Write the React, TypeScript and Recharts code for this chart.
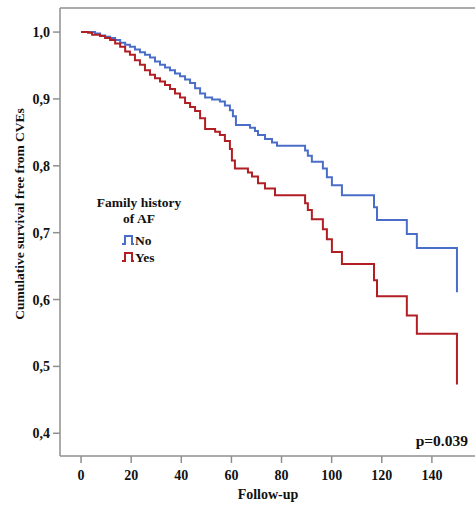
import { LineChart, Line, XAxis, YAxis, ReferenceLine } from 'recharts'

// Kaplan-Meier steps (time, cumulative survival)
const noTimes = [0, 5.6, 7.6, 9.6, 11.6, 13.6, 15.6, 17.6, 19.5, 21.5, 23.5, 25.5, 27.5, 29.5, 31.5, 33.5, 35.5, 37.5, 39.5, 41.5, 43.5, 45.5, 47.5, 49.5, 52.3, 55.4, 57.4, 59.4, 60.6, 61.8, 67.4, 69.4, 70.6, 73.4, 76.2, 78.2, 89.4, 90.5, 92.1, 96.5, 98.1, 100.1, 104.1, 116.9, 118.1, 130, 134, 150]
const noSurv = [1.0, 0.998, 0.995, 0.993, 0.991, 0.988, 0.984, 0.981, 0.978, 0.974, 0.97, 0.966, 0.962, 0.956, 0.951, 0.947, 0.943, 0.938, 0.934, 0.929, 0.924, 0.916, 0.908, 0.902, 0.899, 0.896, 0.89, 0.883, 0.874, 0.861, 0.857, 0.852, 0.846, 0.84, 0.835, 0.83, 0.823, 0.815, 0.806, 0.796, 0.783, 0.771, 0.756, 0.738, 0.719, 0.698, 0.677, 0.611]

const yesTimes = [0, 2.8, 4.4, 7.6, 9.6, 11.6, 13.6, 15.6, 17.6, 19.5, 21.5, 23.5, 25.5, 27.5, 29.5, 31.5, 33.5, 35.5, 37.5, 39.5, 41.5, 43.5, 45.5, 47.5, 49.5, 53.5, 55.4, 57.4, 59.4, 60.2, 61.4, 66.6, 68.2, 70.6, 73.4, 77.4, 89.4, 90.5, 92.1, 96.5, 98.1, 100.1, 104.1, 116.9, 118.1, 130, 134, 150]
const yesSurv = [1.0, 0.999, 0.996, 0.994, 0.991, 0.988, 0.983, 0.978, 0.971, 0.966, 0.958, 0.951, 0.943, 0.936, 0.931, 0.926, 0.921, 0.915, 0.908, 0.902, 0.894, 0.888, 0.882, 0.871, 0.855, 0.851, 0.846, 0.837, 0.825, 0.808, 0.796, 0.79, 0.784, 0.774, 0.766, 0.756, 0.744, 0.734, 0.72, 0.705, 0.69, 0.671, 0.653, 0.629, 0.605, 0.576, 0.549, 0.473]

const xTicks = [0, 20, 40, 60, 80, 100, 120, 140]
const yTicks = [0.4, 0.5, 0.6, 0.7, 0.8, 0.9, 1.0]
const xDomain = [-8.4, 157.2]
const yDomain = [0.366, 1.036]

const groups = ['No', 'Yes']
const pValue = 'p=0.039'

const noData = noTimes.map((t, i) => ({ t, s: noSurv[i] }))
const yesData = yesTimes.map((t, i) => ({ t, s: yesSurv[i] }))

const BLUE = '#4a6ec8'
const RED = '#b11e24'
const AXIS = '#8f8f8f'
const FONT = '"Liberation Serif", "Times New Roman", serif'

const tickStyle = { fill: '#111', fontSize: 14, fontWeight: 700, fontFamily: FONT }

function StepIcon({ x, y, color }: { x: number; y: number; color: string }) {
  // small ⎍ shaped step symbol used by SPSS legends
  return (
    <path
      d={`M${x} ${y + 8} H${x + 3} V${y} H${x + 10} V${y + 8} H${x + 12}`}
      fill="none"
      stroke={color}
      strokeWidth={2}
    />
  )
}

export default function App() {
  return (
    <div style={{ position: 'absolute', left: 0, top: 0, width: 475, height: 509, background: '#fff' }}>
      <LineChart width={475} height={509} margin={{ top: 8, right: 0, left: 0, bottom: 0 }}>
        <XAxis
          type="number"
          dataKey="t"
          domain={xDomain}
          ticks={xTicks}
          allowDataOverflow
          height={53}
          stroke={AXIS}
          strokeWidth={1.5}
          tickSize={7}
          tickMargin={7}
          tick={tickStyle}
        />
        <YAxis
          type="number"
          dataKey="s"
          domain={yDomain}
          ticks={yTicks}
          allowDataOverflow
          width={60}
          stroke={AXIS}
          strokeWidth={1.5}
          tickSize={7}
          tickMargin={3}
          tick={tickStyle}
          tickFormatter={(v: number) => v.toFixed(1).replace('.', ',')}
        />
        <ReferenceLine y={yDomain[1]} stroke={AXIS} strokeWidth={1.5} />
        <Line
          data={noData}
          dataKey="s"
          type="stepAfter"
          stroke={BLUE}
          strokeWidth={2}
          dot={false}
          isAnimationActive={false}
        />
        <Line
          data={yesData}
          dataKey="s"
          type="stepAfter"
          stroke={RED}
          strokeWidth={2}
          dot={false}
          isAnimationActive={false}
        />
      </LineChart>
      <svg
        width={475}
        height={509}
        style={{ position: 'absolute', left: 0, top: 0, pointerEvents: 'none' }}
        fontFamily={FONT}
        fontWeight={700}
        fill="#111"
      >
        <text x={24} y={214} fontSize={13.5} textAnchor="middle" transform="rotate(-90 24 214)">
          Cumulative survival free from CVEs
        </text>
        <text x={268} y={499} fontSize={14} textAnchor="middle">Follow-up</text>
        <text x={468} y={446} fontSize={15.5} textAnchor="end">{pValue}</text>
        <text x={139} y={207} fontSize={13.5} textAnchor="middle">Family history</text>
        <text x={139} y={223} fontSize={13.5} textAnchor="middle">of AF</text>
        <StepIcon x={122} y={236} color={BLUE} />
        <text x={135} y={245} fontSize={13.5}>{groups[0]}</text>
        <StepIcon x={122} y={253} color={RED} />
        <text x={135} y={262} fontSize={13.5}>{groups[1]}</text>
      </svg>
    </div>
  )
}
